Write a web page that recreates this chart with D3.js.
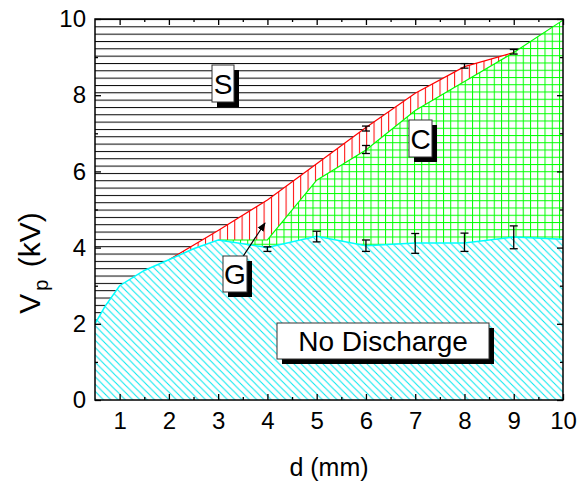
<!DOCTYPE html>
<html>
<head>
<meta charset="utf-8">
<script src="https://cdn.jsdelivr.net/npm/d3@7"></script>
<style>
  html, body { margin: 0; padding: 0; background: #fff; }
  svg text { font-family: "Liberation Sans", Arial, Helvetica, sans-serif; }
</style>
</head>
<body>
<svg id="chart" width="579" height="486"></svg>
<script>
// ---- data ----
const cyanX = [0.5, 0.7, 1, 1.5, 2, 2.5, 3, 4, 5, 6, 7, 8, 9, 10];
const cyanV = [2.0, 2.45, 3.0, 3.4, 3.68, 3.97, 4.2, 4.0, 4.3, 4.05, 4.12, 4.12, 4.28, 4.22];
const redX = [2, 3, 4, 5, 6, 7, 8, 9];
const redV = [3.68, 4.45, 5.25, 6.2, 7.15, 8.05, 8.75, 9.12];
const greenX = [3, 4, 5, 6, 7, 8, 9, 10];
const greenV = [4.2, 4.2, 5.77, 6.56, 7.6, 8.36, 9.12, 9.97];
const errX = [4, 5, 6, 7, 8, 9, 6, 6, 8, 9];
const errLow = [3.9, 4.15, 3.9, 3.85, 3.9, 3.97, 6.47, 7.06, 8.71, 9.08];
const errHigh = [4.02, 4.43, 4.2, 4.37, 4.38, 4.57, 6.68, 7.19, 8.83, 9.2];
const xTicks = [1, 2, 3, 4, 5, 6, 7, 8, 9, 10];
const xMinor = [1.5, 2.5, 3.5, 4.5, 5.5, 6.5, 7.5, 8.5, 9.5];
const yTicks = [0, 2, 4, 6, 8, 10];
const yMinor = [1, 3, 5, 7, 9];
const regionLabels = ["S", "C", "G", "No Discharge"];

// ---- layout ----
const L = 95, R = 563, T = 19, B = 400;
const x = d3.scaleLinear().domain([0.5, 10]).range([L, R]);
const y = d3.scaleLinear().domain([0, 10]).range([B, T]);
const svg = d3.select("#chart");
const defs = svg.append("defs");

// patterns
const pH = defs.append("pattern").attr("id", "hatchH").attr("patternUnits", "userSpaceOnUse")
  .attr("x", 0).attr("y", T).attr("width", 10).attr("height", 7.33);
pH.append("rect").attr("width", 10).attr("height", 7.33).attr("fill", "#fff");
pH.append("line").attr("x1", 0).attr("x2", 10).attr("y1", 0.5).attr("y2", 0.5).attr("stroke", "#000").attr("stroke-width", 1);

const pV = defs.append("pattern").attr("id", "hatchV").attr("patternUnits", "userSpaceOnUse")
  .attr("x", L).attr("y", 0).attr("width", 7.33).attr("height", 10);
pV.append("rect").attr("width", 7.33).attr("height", 10).attr("fill", "#fff");
pV.append("line").attr("x1", 0.5).attr("x2", 0.5).attr("y1", 0).attr("y2", 10).attr("stroke", "#ff0000").attr("stroke-width", 1);

const pG = defs.append("pattern").attr("id", "gridG").attr("patternUnits", "userSpaceOnUse")
  .attr("x", L).attr("y", T).attr("width", 7.25).attr("height", 7.25);
pG.append("rect").attr("width", 7.25).attr("height", 7.25).attr("fill", "#fff");
pG.append("line").attr("x1", 0.5).attr("x2", 0.5).attr("y1", 0).attr("y2", 7.25).attr("stroke", "#00ff00").attr("stroke-width", 1);
pG.append("line").attr("x1", 0).attr("x2", 7.25).attr("y1", 0.5).attr("y2", 0.5).attr("stroke", "#00ff00").attr("stroke-width", 1);

const pD = defs.append("pattern").attr("id", "diagC").attr("patternUnits", "userSpaceOnUse")
  .attr("x", L).attr("y", T).attr("width", 7.3).attr("height", 7.3);
pD.append("rect").attr("width", 7.3).attr("height", 7.3).attr("fill", "#fff");
pD.append("path").attr("d", "M0,0L7.3,7.3M-1,6.3L1,8.3M6.3,-1L8.3,1")
  .attr("stroke", "#00e8f0").attr("stroke-width", 1);

defs.append("clipPath").attr("id", "plotClip").append("rect")
  .attr("x", L).attr("y", T).attr("width", R - L).attr("height", B - T);

defs.append("marker").attr("id", "arrow").attr("viewBox", "0 0 10 10").attr("refX", 9).attr("refY", 5)
  .attr("markerWidth", 9).attr("markerHeight", 9).attr("markerUnits", "userSpaceOnUse").attr("orient", "auto")
  .append("path").attr("d", "M0,1L10,5L0,9Z").attr("fill", "#000");

const plot = svg.append("g").attr("clip-path", "url(#plotClip)");

// background (S region)
plot.append("rect").attr("x", L).attr("y", T).attr("width", R - L).attr("height", B - T).attr("fill", "url(#hatchH)");

const area = d3.area().x(d => x(d[0])).y0(y(0)).y1(d => y(d[1]));
const line = d3.line().x(d => x(d[0])).y(d => y(d[1]));

const redPts = redX.map((v, i) => [v, redV[i]]);
const greenPts = greenX.map((v, i) => [v, greenV[i]]);
const cyanPts = cyanX.map((v, i) => [v, cyanV[i]]);

plot.append("path").datum(redPts).attr("d", area).attr("fill", "url(#hatchV)");
plot.append("path").datum(redPts).attr("d", line).attr("fill", "none").attr("stroke", "#ff0000").attr("stroke-width", 1.2);
plot.append("path").datum(greenPts).attr("d", area).attr("fill", "url(#gridG)");
plot.append("path").datum(greenPts).attr("d", line).attr("fill", "none").attr("stroke", "#00ff00").attr("stroke-width", 1.2);
plot.append("path").datum(cyanPts).attr("d", area).attr("fill", "url(#diagC)");
plot.append("path").datum(cyanPts).attr("d", line).attr("fill", "none").attr("stroke", "#00ffff").attr("stroke-width", 1.5);

// error bars
const eb = plot.append("g").attr("stroke", "#000").attr("stroke-width", 1.3);
errX.forEach((v, i) => {
  const cx = x(v), y1 = y(errLow[i]), y2 = y(errHigh[i]);
  eb.append("line").attr("x1", cx).attr("x2", cx).attr("y1", y1).attr("y2", y2);
  eb.append("line").attr("x1", cx - 4).attr("x2", cx + 4).attr("y1", y1).attr("y2", y1);
  eb.append("line").attr("x1", cx - 4).attr("x2", cx + 4).attr("y1", y2).attr("y2", y2);
});

// axes
function styleAxis(g, noLabels) {
  g.select(".domain").remove();
  g.selectAll("line").attr("stroke", "#000").attr("stroke-width", 1.3);
  g.selectAll("text").attr("font-size", 24).attr("fill", "#000")
    .style("font-family", '"Liberation Sans", Arial, Helvetica, sans-serif');
  if (noLabels) g.selectAll("text").remove();
}
svg.append("g").attr("transform", `translate(0,${B})`)
  .call(d3.axisBottom(x).tickValues(xTicks).tickSizeInner(-6).tickSizeOuter(0).tickPadding(12).tickFormat(d3.format("d")))
  .call(g => styleAxis(g, false));
svg.append("g").attr("transform", `translate(0,${B})`)
  .call(d3.axisBottom(x).tickValues(xMinor).tickSizeInner(-3).tickSizeOuter(0))
  .call(g => styleAxis(g, true));
svg.append("g").attr("transform", `translate(0,${T})`)
  .call(d3.axisTop(x).tickValues(xTicks).tickSizeInner(-6).tickSizeOuter(0))
  .call(g => styleAxis(g, true));
svg.append("g").attr("transform", `translate(0,${T})`)
  .call(d3.axisTop(x).tickValues(xMinor).tickSizeInner(-3).tickSizeOuter(0))
  .call(g => styleAxis(g, true));
svg.append("g").attr("transform", `translate(${L},0)`)
  .call(d3.axisLeft(y).tickValues(yTicks).tickSizeInner(-6).tickSizeOuter(0).tickPadding(9).tickFormat(d3.format("d")))
  .call(g => styleAxis(g, false));
svg.append("g").attr("transform", `translate(${L},0)`)
  .call(d3.axisLeft(y).tickValues(yMinor).tickSizeInner(-3).tickSizeOuter(0))
  .call(g => styleAxis(g, true));
svg.append("g").attr("transform", `translate(${R},0)`)
  .call(d3.axisRight(y).tickValues(yTicks).tickSizeInner(-6).tickSizeOuter(0))
  .call(g => styleAxis(g, true));
svg.append("g").attr("transform", `translate(${R},0)`)
  .call(d3.axisRight(y).tickValues(yMinor).tickSizeInner(-3).tickSizeOuter(0))
  .call(g => styleAxis(g, true));

svg.append("rect").attr("x", L).attr("y", T).attr("width", R - L).attr("height", B - T)
  .attr("fill", "none").attr("stroke", "#000").attr("stroke-width", 1.5);

// axis titles
svg.append("text").attr("x", (L + R) / 2).attr("y", 476).attr("text-anchor", "middle")
  .attr("font-size", 25).text("d (mm)");
const yt = svg.append("text").attr("transform", "translate(40,263) rotate(-90)").attr("text-anchor", "middle")
  .attr("font-size", 30);
yt.append("tspan").text("V");
yt.append("tspan").attr("font-size", 20).attr("dy", 8).attr("dx", 3).text("p");
yt.append("tspan").attr("dy", -8).attr("dx", 4).text(" (kV)");

// arrow for G
svg.append("line").attr("x1", 242).attr("y1", 258).attr("x2", 265).attr("y2", 223)
  .attr("stroke", "#000").attr("stroke-width", 1.2).attr("marker-end", "url(#arrow)");

// region label boxes
const boxes = [
  { t: regionLabels[0], x0: 212, y0: 65, w: 22, h: 37 },
  { t: regionLabels[1], x0: 409, y0: 120, w: 23, h: 37 },
  { t: regionLabels[2], x0: 223, y0: 256, w: 24, h: 36 },
  { t: regionLabels[3], x0: 277, y0: 323, w: 212, h: 36 }
];
boxes.forEach(b => {
  svg.append("rect").attr("x", b.x0 + 5).attr("y", b.y0 + 5).attr("width", b.w).attr("height", b.h).attr("fill", "#000");
  svg.append("rect").attr("x", b.x0).attr("y", b.y0).attr("width", b.w).attr("height", b.h)
    .attr("fill", "#fff").attr("stroke", "#333").attr("stroke-width", 1);
  svg.append("text").attr("x", b.x0 + b.w / 2).attr("y", b.y0 + b.h / 2 + 10).attr("text-anchor", "middle")
    .attr("font-size", 28).text(b.t);
});
</script>
</body>
</html>
